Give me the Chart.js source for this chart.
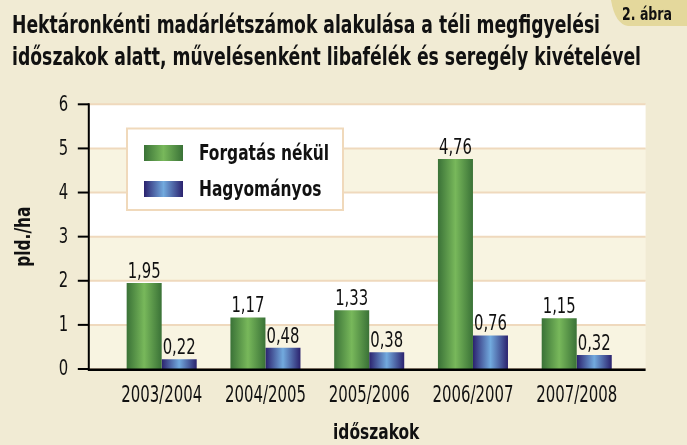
<!DOCTYPE html>
<html>
<head>
<meta charset="utf-8">
<script src="https://cdn.jsdelivr.net/npm/chart.js@4.4.0/dist/chart.umd.min.js"></script>
<style>
  html, body { margin: 0; padding: 0; background: #f1ebd4; }
  canvas { display: block; }
</style>
</head>
<body>
<canvas id="chart" width="687" height="445"></canvas>
<script>
// adatok
const categories = ['2003/2004', '2004/2005', '2005/2006', '2006/2007', '2007/2008'];
const seriesNames = ['Forgatás nékül', 'Hagyományos'];
const forgatasNelkul = [1.95, 1.17, 1.33, 4.76, 1.15];
const hagyomanyos = [0.22, 0.48, 0.38, 0.76, 0.32];
const yTicks = [0, 1, 2, 3, 4, 5, 6];

const titleLines = [
    'Hektáronkénti madárlétszámok alakulása a téli megfigyelési',
    'időszakok alatt, művelésenként libafélék és seregély kivételével'
];
const figureTag = '2. ábra';
const yTitle = 'pld./ha';
const xTitle = 'időszakok';

const NARROW = "'Liberation Sans Narrow', 'DejaVu Sans Condensed', sans-serif";
const CAT_PCT = 0.675;
const greenStops = ['#3a7237', '#78b85b', '#3a7237'];
const blueStops = ['#2b226e', '#72aade', '#2b226e'];

function barGradient(ctx, left, right, stops) {
    const g = ctx.createLinearGradient(left, 0, right, 0);
    g.addColorStop(0, stops[0]);
    g.addColorStop(0.5, stops[1]);
    g.addColorStop(1, stops[2]);
    return g;
}

// színátmenet oszloponként, a skálából számolva
function barFill(stops) {
    return function(c) {
        const xs = c.chart.scales.x;
        if (!xs || c.dataIndex === undefined || !xs.width) return stops[1];
        const groupW = xs.width / categories.length * CAT_PCT;
        const center = xs.getPixelForValue(c.dataIndex);
        const left = center - groupW / 2 + c.datasetIndex * groupW / 2;
        return barGradient(c.chart.ctx, left, left + groupW / 2, stops);
    };
}

// keskenyített szöveg (nincs condensed betű, ezért vízszintesen nyomjuk össze)
function narrowText(ctx, text, x, y, font, sx, align, baseline, rot) {
    ctx.save();
    ctx.font = font;
    ctx.textAlign = align || 'left';
    ctx.textBaseline = baseline || 'alphabetic';
    ctx.translate(x, y);
    if (rot) ctx.rotate(rot);
    ctx.scale(sx, 1);
    ctx.fillText(text, 0, 0);
    ctx.restore();
}

function fitScale(ctx, text, font, width) {
    ctx.save();
    ctx.font = font;
    const w = ctx.measureText(text).width;
    ctx.restore();
    return width / w;
}

const backgroundPlugin = {
    id: 'background',
    beforeDraw(chart) {
        const ctx = chart.ctx;
        const area = chart.chartArea;
        const y = chart.scales.y;
        const plotLeft = area.left - 21;
        const plotRight = area.right + 17;
        ctx.save();
        ctx.fillStyle = '#f1ebd4';
        ctx.fillRect(0, 0, chart.width, chart.height);

        // sarokcímke
        ctx.fillStyle = '#e4d89c';
        ctx.beginPath();
        ctx.moveTo(611, 0);
        ctx.lineTo(chart.width, 0);
        ctx.lineTo(chart.width, 26);
        ctx.lineTo(628, 26);
        ctx.quadraticCurveTo(615, 24, 611, 0);
        ctx.fill();
        ctx.fillStyle = '#111';
        const tagFont = "bold 17px " + NARROW;
        narrowText(ctx, figureTag, 622, 20, tagFont, fitScale(ctx, figureTag, tagFont, 50));

        // cím
        const titleFont = "bold 25px " + NARROW;
        narrowText(ctx, titleLines[0], 12, 33, titleFont, fitScale(ctx, titleLines[0], titleFont, 588));
        narrowText(ctx, titleLines[1], 12, 65, titleFont, fitScale(ctx, titleLines[1], titleFont, 629));

        // sávok
        for (let i = 0; i < yTicks.length - 1; i++) {
            const top = y.getPixelForValue(yTicks[i + 1]);
            const bottom = y.getPixelForValue(yTicks[i]);
            ctx.fillStyle = (i % 2 === 0) ? '#f8f4e1' : '#ffffff';
            ctx.fillRect(plotLeft, top, plotRight - plotLeft, bottom - top);
        }
        ctx.strokeStyle = '#efd9bd';
        ctx.lineWidth = 2;
        yTicks.forEach(v => {
            const py = y.getPixelForValue(v);
            ctx.beginPath();
            ctx.moveTo(plotLeft, py);
            ctx.lineTo(plotRight, py);
            ctx.stroke();
        });
        ctx.restore();
    },
    afterDatasetsDraw(chart) {
        const ctx = chart.ctx;
        const area = chart.chartArea;
        const x = chart.scales.x;
        const y = chart.scales.y;
        const plotLeft = area.left - 21;
        const plotRight = area.right + 17;
        const regFont = "21px " + NARROW;
        const catFont = "23px " + NARROW;
        const boldFont = "bold 21px " + NARROW;
        const sxReg = fitScale(ctx, '1,95', regFont, 33);
        const sxCat = fitScale(ctx, categories[0], catFont, 81);
        const sxBold = fitScale(ctx, seriesNames[0], boldFont, 130);
        ctx.save();

        // tengelyek
        ctx.strokeStyle = '#000';
        ctx.lineWidth = 2;
        ctx.beginPath();
        ctx.moveTo(plotLeft, y.getPixelForValue(6) - 1);
        ctx.lineTo(plotLeft, area.bottom + 1);
        ctx.stroke();
        ctx.fillStyle = '#111';
        yTicks.forEach(v => {
            const py = y.getPixelForValue(v);
            ctx.beginPath();
            ctx.moveTo(plotLeft - 11, py);
            ctx.lineTo(plotLeft, py);
            ctx.stroke();
            narrowText(ctx, String(v), plotLeft - 20.5, py + 1, regFont, sxReg, 'right', 'middle');
        });
        ctx.lineWidth = 2.5;
        ctx.beginPath();
        ctx.moveTo(plotLeft - 1, area.bottom + 0.8);
        ctx.lineTo(plotRight, area.bottom + 0.8);
        ctx.stroke();

        // kategóriák és tengelycímek
        categories.forEach((c, i) => {
            narrowText(ctx, c, x.getPixelForValue(i), 401.5, catFont, sxCat, 'center');
        });
        narrowText(ctx, xTitle, (plotLeft + plotRight) / 2 + 9, 439, boldFont, sxBold, 'center');
        narrowText(ctx, yTitle, 25, (area.top + area.bottom) / 2, boldFont, sxBold, 'center', 'middle', -Math.PI / 2);

        // értékcímkék
        chart.data.datasets.forEach((ds, di) => {
            chart.getDatasetMeta(di).data.forEach((bar, i) => {
                narrowText(ctx, ds.data[i].toFixed(2).replace('.', ','), bar.x, bar.y - 5, regFont, sxReg, 'center');
            });
        });

        // jelmagyarázat
        ctx.fillStyle = '#ffffff';
        ctx.fillRect(127, 128.5, 216, 81.5);
        ctx.strokeStyle = '#f0d9bb';
        ctx.lineWidth = 2;
        ctx.strokeRect(127, 128.5, 216, 81.5);
        const stopsList = [greenStops, blueStops];
        seriesNames.forEach((name, i) => {
            const sy = 145 + i * 36;
            ctx.fillStyle = barGradient(ctx, 144, 183, stopsList[i]);
            ctx.fillRect(144, sy, 39, 16);
            ctx.fillStyle = '#111';
            narrowText(ctx, name, 199, sy + 15, boldFont, sxBold);
        });
        ctx.restore();
    }
};

new Chart(document.getElementById('chart'), {
    type: 'bar',
    data: {
        labels: categories,
        datasets: [{
            label: seriesNames[0],
            data: forgatasNelkul,
            backgroundColor: barFill(greenStops),
            borderWidth: 0,
            categoryPercentage: CAT_PCT,
            barPercentage: 1
        }, {
            label: seriesNames[1],
            data: hagyomanyos,
            backgroundColor: barFill(blueStops),
            borderWidth: 0,
            categoryPercentage: CAT_PCT,
            barPercentage: 1
        }]
    },
    options: {
        responsive: false,
        animation: false,
        devicePixelRatio: 1,
        layout: { padding: { top: 104.3, right: 58.4, bottom: 0, left: 0 } },
        plugins: {
            legend: { display: false },
            tooltip: { enabled: false }
        },
        scales: {
            x: {
                offset: true,
                grid: { display: false, drawTicks: false },
                border: { display: false },
                ticks: { display: false },
                afterFit(s) { s.height = 76; }
            },
            y: {
                min: 0,
                max: 6,
                grid: { display: false, drawTicks: false },
                border: { display: false },
                afterBuildTicks(s) { s.ticks = yTicks.map(v => ({ value: v })); },
                ticks: { display: false },
                afterFit(s) { s.width = 109.8; }
            }
        }
    },
    plugins: [backgroundPlugin]
});
</script>
</body>
</html>
